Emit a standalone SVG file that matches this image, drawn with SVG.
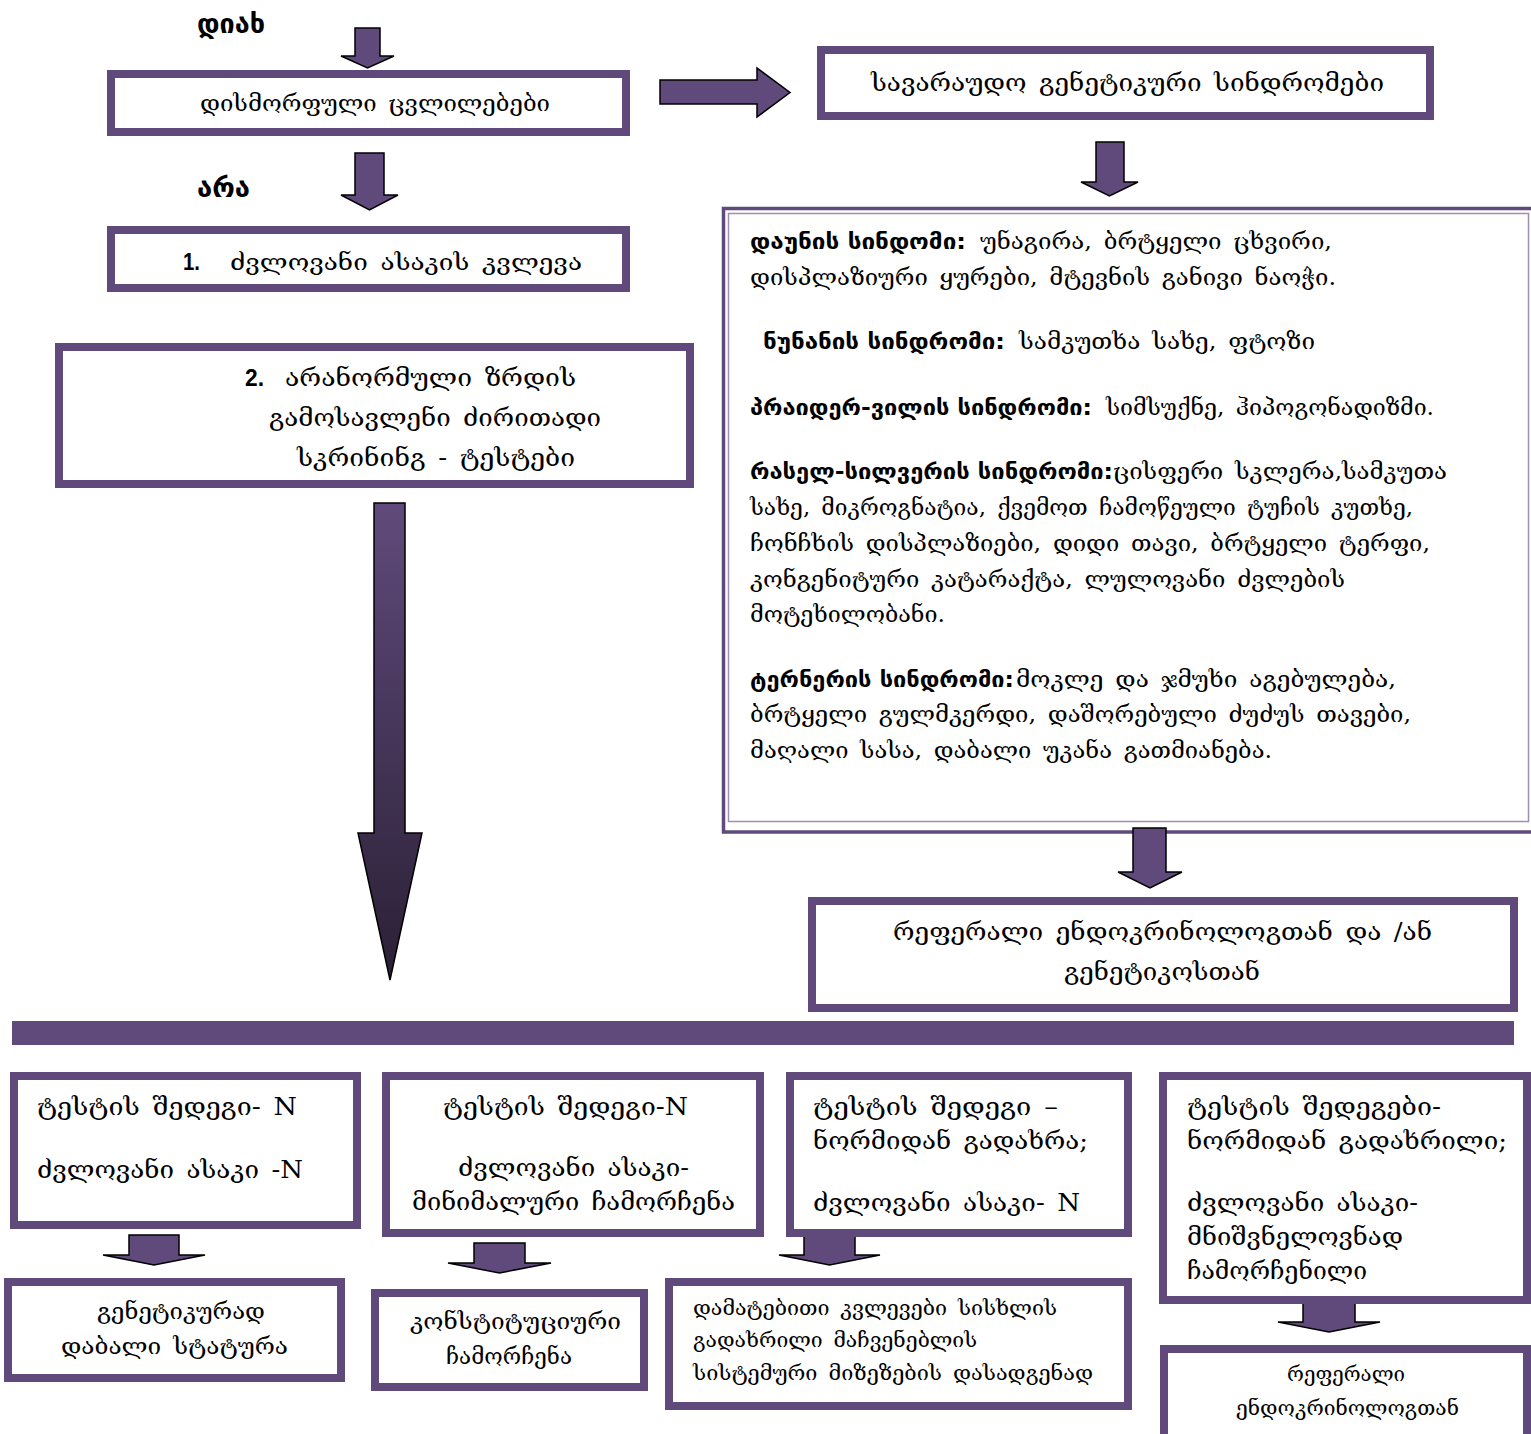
<svg xmlns="http://www.w3.org/2000/svg" width="1531" height="1434" viewBox="0 0 1531 1434">
<defs>
<linearGradient id="gBig" x1="0" y1="0" x2="0" y2="1">
<stop offset="0" stop-color="#604A7B"/>
<stop offset="1" stop-color="#2A2035"/>
</linearGradient>
</defs>
<style>
.box{fill:#fff;stroke:#604A7B;stroke-width:8}
.arr{fill:#604A7B;stroke:#000;stroke-width:1.5;stroke-linejoin:miter}
.t{font-family:"DejaVu Serif","DejaVu Sans",serif;font-size:23px;fill:#000;word-spacing:4px}
.L{font-size:25px}
.S{font-size:21px}
.b{font-family:"DejaVu Sans",sans-serif;font-weight:bold;font-size:22px}
.n{font-family:"Liberation Sans",sans-serif;font-weight:bold}
</style>
<rect width="1531" height="1434" fill="#fff"/>

<g id="connectors">
<path class="arr" d="M355,28 H380 V56 H394 L367.5,68 L341,56 H355 Z"/>
<path class="arr" d="M355,153 H384 V195 H398 L369.5,210 L341,195 H355 Z"/>
<path class="arr" d="M660,80 H757 V68 L790,92.5 L757,117 V104 H660 Z"/>
<path class="arr" d="M1096,142 H1124 V182 H1138 L1109.5,196 L1081,182 H1096 Z"/>
<path class="arr" style="fill:url(#gBig)" d="M374,503 H405 V833 H422 L390,980 L358,833 H374 Z"/>
<rect x="12" y="1021" width="1502" height="24" fill="#604A7B"/>
<path class="arr" d="M129,1235 H179 V1255 H205 L154,1265 L103,1255 H129 Z"/>
<path class="arr" d="M474,1243 H525 V1263 H551 L499.5,1273 L448,1263 H474 Z"/>
<path class="arr" d="M804,1235 H855 V1255 H880 L829.5,1265 L779,1255 H804 Z"/>
<path class="arr" d="M1303,1300 H1355 V1322 H1380 L1329,1332 L1278,1322 H1303 Z"/>
</g>

<g id="label-yes"><text class="t b" x="197" y="33" style="font-size:26px" textLength="68" lengthAdjust="spacingAndGlyphs">დიახ</text></g>
<g id="label-no"><text class="t b" x="197" y="197" style="font-size:26px" textLength="53" lengthAdjust="spacingAndGlyphs">არა</text></g>

<g id="n-dysmorph">
<rect class="box" x="111" y="74" width="515" height="58"/>
<text class="t" x="200" y="111" textLength="350" lengthAdjust="spacingAndGlyphs">დისმორფული ცვლილებები</text>
</g>

<g id="n-genetic">
<rect class="box" x="821" y="50" width="609" height="66"/>
<text class="t L" x="871" y="91" textLength="513" lengthAdjust="spacingAndGlyphs">სავარაუდო გენეტიკური სინდრომები</text>
</g>

<g id="n-boneage">
<rect class="box" x="111" y="230" width="515" height="58"/>
<text class="t n" x="183" y="270" textLength="17" lengthAdjust="spacingAndGlyphs">1.</text>
<text class="t" x="230" y="270" textLength="352" lengthAdjust="spacingAndGlyphs">ძვლოვანი ასაკის კვლევა</text>
</g>

<g id="n-screening">
<rect class="box" x="59" y="347" width="631" height="137"/>
<text class="t n" x="245" y="386" textLength="19" lengthAdjust="spacingAndGlyphs">2.</text>
<text class="t L" x="285" y="386" textLength="291" lengthAdjust="spacingAndGlyphs">არანორმული ზრდის</text>
<text class="t L" x="269" y="426" textLength="332" lengthAdjust="spacingAndGlyphs">გამოსავლენი ძირითადი</text>
<text class="t L" x="297" y="466" textLength="278" lengthAdjust="spacingAndGlyphs">სკრინინგ - ტესტები</text>
</g>

<g id="n-syndromes">
<rect x="723.5" y="208.5" width="810" height="623.5" fill="#fff" stroke="#604A7B" stroke-width="3.5"/>
<rect x="728.5" y="213.5" width="800" height="608" fill="none" stroke="#9C8FB3" stroke-width="1.5"/>
<text class="b" x="750" y="249" textLength="216" lengthAdjust="spacingAndGlyphs">დაუნის სინდომი:</text>
<text class="t" x="980" y="249" textLength="352" lengthAdjust="spacingAndGlyphs">უნაგირა, ბრტყელი ცხვირი,</text>
<text class="t" x="750" y="285" textLength="586" lengthAdjust="spacingAndGlyphs">დისპლაზიური ყურები, მტევნის განივი ნაოჭი.</text>
<text class="b" x="763" y="349" textLength="242" lengthAdjust="spacingAndGlyphs">ნუნანის სინდრომი:</text>
<text class="t" x="1019" y="349" textLength="296" lengthAdjust="spacingAndGlyphs">სამკუთხა სახე, ფტოზი</text>
<text class="b" x="750" y="415" textLength="342" lengthAdjust="spacingAndGlyphs">პრაიდერ-ვილის სინდრომი:</text>
<text class="t" x="1106" y="415" textLength="328" lengthAdjust="spacingAndGlyphs">სიმსუქნე, ჰიპოგონადიზმი.</text>
<text class="b" x="750" y="479" textLength="363" lengthAdjust="spacingAndGlyphs">რასელ-სილვერის სინდრომი:</text>
<text class="t" x="1113" y="479" textLength="334" lengthAdjust="spacingAndGlyphs">ცისფერი სკლერა,სამკუთა</text>
<text class="t" x="750" y="515" textLength="663" lengthAdjust="spacingAndGlyphs">სახე, მიკროგნატია, ქვემოთ ჩამოწეული ტუჩის კუთხე,</text>
<text class="t" x="750" y="551" textLength="680" lengthAdjust="spacingAndGlyphs">ჩონჩხის დისპლაზიები, დიდი თავი, ბრტყელი ტერფი,</text>
<text class="t" x="750" y="587" textLength="595" lengthAdjust="spacingAndGlyphs">კონგენიტური კატარაქტა, ლულოვანი ძვლების</text>
<text class="t" x="750" y="622" textLength="195" lengthAdjust="spacingAndGlyphs">მოტეხილობანი.</text>
<text class="b" x="750" y="687" textLength="264" lengthAdjust="spacingAndGlyphs">ტერნერის სინდრომი:</text>
<text class="t" x="1016" y="687" textLength="380" lengthAdjust="spacingAndGlyphs">მოკლე და ჯმუხი აგებულება,</text>
<text class="t" x="750" y="722" textLength="661" lengthAdjust="spacingAndGlyphs">ბრტყელი გულმკერდი, დაშორებული ძუძუს თავები,</text>
<text class="t" x="750" y="758" textLength="522" lengthAdjust="spacingAndGlyphs">მაღალი სასა, დაბალი უკანა გათმიანება.</text>
</g>

<g id="connector-syndromes-referral">
<path class="arr" d="M1133,828 H1166 V872 H1182 L1150,888 L1118,872 H1133 Z"/>
</g>

<g id="n-referral1">
<rect class="box" x="812" y="901" width="702" height="107"/>
<text class="t L" x="893" y="940" textLength="539" lengthAdjust="spacingAndGlyphs">რეფერალი ენდოკრინოლოგთან და /ან</text>
<text class="t L" x="1064" y="980" textLength="196" lengthAdjust="spacingAndGlyphs">გენეტიკოსთან</text>
</g>

<g id="n-resA">
<rect class="box" x="14" y="1076" width="343" height="149"/>
<text class="t L" x="37" y="1115" textLength="260" lengthAdjust="spacingAndGlyphs">ტესტის შედეგი- N</text>
<text class="t L" x="37" y="1178" textLength="266" lengthAdjust="spacingAndGlyphs">ძვლოვანი ასაკი -N</text>
</g>

<g id="n-resB">
<rect class="box" x="386" y="1076" width="374" height="157"/>
<text class="t L" x="443" y="1115" textLength="245" lengthAdjust="spacingAndGlyphs">ტესტის შედეგი-N</text>
<text class="t L" x="458" y="1176" textLength="231" lengthAdjust="spacingAndGlyphs">ძვლოვანი ასაკი-</text>
<text class="t L" x="412" y="1210" textLength="323" lengthAdjust="spacingAndGlyphs">მინიმალური ჩამორჩენა</text>
</g>

<g id="n-resC">
<rect class="box" x="790" y="1076" width="338" height="157"/>
<text class="t L" x="813" y="1115" textLength="245" lengthAdjust="spacingAndGlyphs">ტესტის შედეგი –</text>
<text class="t L" x="813" y="1149" textLength="275" lengthAdjust="spacingAndGlyphs">ნორმიდან გადახრა;</text>
<text class="t L" x="813" y="1211" textLength="267" lengthAdjust="spacingAndGlyphs">ძვლოვანი ასაკი- N</text>
</g>

<g id="n-resD">
<rect class="box" x="1163" y="1076" width="364" height="224"/>
<text class="t L" x="1187" y="1115" textLength="254" lengthAdjust="spacingAndGlyphs">ტესტის შედეგები-</text>
<text class="t L" x="1187" y="1149" textLength="320" lengthAdjust="spacingAndGlyphs">ნორმიდან გადახრილი;</text>
<text class="t L" x="1187" y="1211" textLength="231" lengthAdjust="spacingAndGlyphs">ძვლოვანი ასაკი-</text>
<text class="t L" x="1187" y="1245" textLength="216" lengthAdjust="spacingAndGlyphs">მნიშვნელოვნად</text>
<text class="t L" x="1187" y="1279" textLength="180" lengthAdjust="spacingAndGlyphs">ჩამორჩენილი</text>
</g>

<g id="n-familial">
<rect class="box" x="8" y="1282" width="333" height="96"/>
<text class="t" x="97" y="1319" textLength="168" lengthAdjust="spacingAndGlyphs">გენეტიკურად</text>
<text class="t" x="61" y="1354" textLength="227" lengthAdjust="spacingAndGlyphs">დაბალი სტატურა</text>
</g>

<g id="n-constitutional">
<rect class="box" x="375" y="1293" width="269" height="94"/>
<text class="t" x="410" y="1329" textLength="211" lengthAdjust="spacingAndGlyphs">კონსტიტუციური</text>
<text class="t" x="446" y="1364" textLength="126" lengthAdjust="spacingAndGlyphs">ჩამორჩენა</text>
</g>

<g id="n-additional">
<rect class="box" x="669" y="1282" width="459" height="124"/>
<text class="t S" x="693" y="1315" textLength="364" lengthAdjust="spacingAndGlyphs">დამატებითი კვლევები სისხლის</text>
<text class="t S" x="693" y="1347" textLength="284" lengthAdjust="spacingAndGlyphs">გადახრილი მაჩვენებლის</text>
<text class="t S" x="693" y="1380" textLength="400" lengthAdjust="spacingAndGlyphs">სისტემური მიზეზების დასადგენად</text>
</g>

<g id="n-referral2">
<rect class="box" x="1164" y="1349" width="363" height="90"/>
<text class="t S" x="1287" y="1381" textLength="118" lengthAdjust="spacingAndGlyphs">რეფერალი</text>
<text class="t S" x="1236" y="1415" textLength="223" lengthAdjust="spacingAndGlyphs">ენდოკრინოლოგთან</text>
</g>
</svg>
